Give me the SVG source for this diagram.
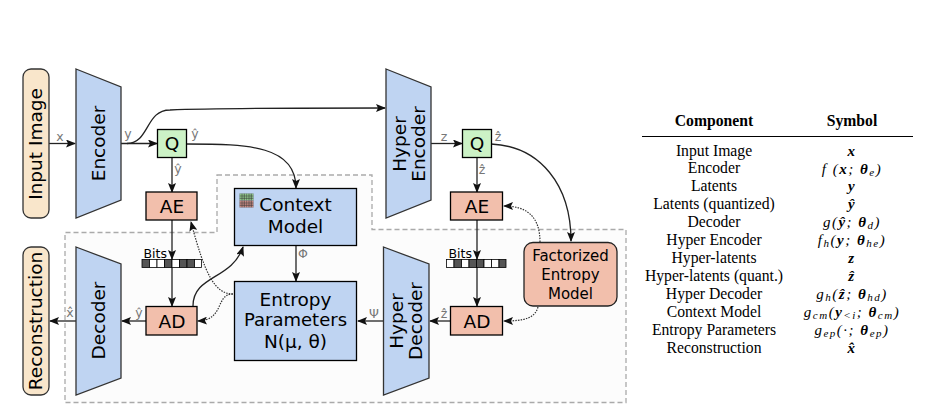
<svg xmlns="http://www.w3.org/2000/svg" width="926" height="417" viewBox="0 0 926 417">
<style>
.dv{font-family:"DejaVu Sans",sans-serif;fill:#000}
.big{font-size:18.500px;text-anchor:middle}
.lbl{font-size:12.500px;fill:#777;text-anchor:middle}
.blue{fill:#bfd4f2;stroke:#333;stroke-width:1.3}
.sal{fill:#f2bfac;stroke:#000;stroke-width:1.3}
.grn{fill:#ccf2c6;stroke:#000;stroke-width:1.3}
.pill{fill:#f9e6cb;stroke:#333;stroke-width:1.3}
.ln{fill:none;stroke:#222;stroke-width:1.3}
.ar{marker-end:url(#a)}
.dot{fill:none;stroke:#333;stroke-width:1.2;stroke-dasharray:1.5 1.2;marker-end:url(#a)}
.t{font-family:"Liberation Serif",serif;font-size:15.700px;text-anchor:middle;fill:#000}
.h{font-weight:bold}
.m{font-family:"Liberation Serif",serif;font-size:15px;font-style:italic;text-anchor:middle;fill:#000;letter-spacing:1.500px}
.m .b{font-weight:bold}
.m .s{font-size:11px}
.d{fill:#555;stroke:#000;stroke-width:.8}
.w{fill:#fff;stroke:#000;stroke-width:.8}
</style>
<defs>
<marker id="a" markerWidth="10" markerHeight="8" refX="9" refY="4" orient="auto" markerUnits="userSpaceOnUse"><path d="M0,0 L10,4 L0,8 L2,4 Z" fill="#111"/></marker>
<pattern id="g" width="2.33" height="2.33" patternUnits="userSpaceOnUse" x="239.5" y="193.5"><rect width="2.33" height="2.33" fill="#333"/><rect x=".4" y=".4" width="1.7" height="1.7" fill="#9fe09a"/></pattern>
<pattern id="r" width="2.33" height="2.33" patternUnits="userSpaceOnUse" x="239.5" y="193.5"><rect width="2.33" height="2.33" fill="#333"/><rect x=".4" y=".4" width="1.7" height="1.7" fill="#e09890"/></pattern>
</defs>

<path id="region" d="M217,175 H372 V229.500 H626 V402.500 H65 V232.500 H217 Z" fill="#fcfcfc" stroke="#aaa" stroke-width="1.300" stroke-dasharray="5 3"/>

<g id="connectors">
<path class="ln ar" d="M49,143.500 H75"/>
<path class="ln ar" d="M121,143.500 H157"/>
<path class="ln ar" d="M127,143.500 C150,143 145,110 170,110 C220,108 320,108 385,108"/>
<path class="ln ar" d="M186,144 C250,144 296,146 296,188"/>
<path class="ln ar" d="M172,157 V192"/>
<path class="ln ar" d="M172,220 V259"/>
<path class="ln ar" d="M172,267 V306"/>
<path class="ln ar" d="M76,321 H50"/>
<path class="ln ar" d="M146,321 H122"/>
<path class="ln ar" d="M193,306 C193,275 232,280 243,247"/>
<path class="ln ar" d="M296,245 V281"/>
<path class="dot" d="M233,294 C215,294 205,275 191,222"/>
<path class="dot" d="M233,294 C215,294 225,320 198,321"/>
<path class="ln ar" d="M431,143.500 H462"/>
<path class="ln ar" d="M491,144 C540,146 571,185 571,241"/>
<path class="ln ar" d="M477,157 V192"/>
<path class="ln ar" d="M477,220 V259"/>
<path class="ln ar" d="M477,267 V306"/>
<path class="ln ar" d="M384,321 H358"/>
<path class="ln ar" d="M451,321 H430"/>
<path class="dot" d="M540,242 C540,215 525,206 504,206"/>
<path class="dot" d="M538,307 C535,318 525,321 504,321"/>
</g>

<g id="input-image"><rect class="pill" x="23" y="69" width="26" height="149" rx="8"/><text class="dv big" transform="translate(42,144) rotate(-90)">Input Image</text></g>
<g id="encoder"><path class="blue" d="M76,69 L121,87 V200 L76,218 Z"/><text class="dv big" transform="translate(105,143.500) rotate(-90)">Encoder</text></g>
<g id="q1"><rect class="grn" x="157.500" y="129.500" width="29" height="28"/><text class="dv big" x="172" y="149.500">Q</text></g>
<g id="ae1"><rect class="sal" x="146" y="192" width="51" height="28"/><text class="dv big" x="172" y="212.500">AE</text></g>
<g id="ad1"><rect class="sal" x="146" y="306.500" width="51" height="28.500"/><text class="dv big" x="172" y="327.500">AD</text></g>
<g id="bits1"><text class="dv" x="143.500" y="258" style="font-size:12.500px">Bits</text>
<rect class="d" x="142" y="259.500" width="7.500" height="8"/><rect class="w" x="149.500" y="259.500" width="7.500" height="8"/><rect class="w" x="157" y="259.500" width="7.500" height="8"/><rect class="d" x="164.500" y="259.500" width="7.500" height="8"/><rect class="w" x="172" y="259.500" width="7.500" height="8"/><rect class="d" x="179.500" y="259.500" width="7.500" height="8"/><rect class="d" x="187" y="259.500" width="7.500" height="8"/><rect class="w" x="194.500" y="259.500" width="7" height="8"/></g>
<g id="context-model"><rect class="blue" style="stroke:#000" x="234.500" y="188.500" width="122" height="57"/>
<rect x="239.500" y="193.500" width="14" height="7" fill="url(#g)"/><rect x="239.500" y="200.500" width="14" height="7" fill="url(#r)"/>
<text class="dv big" x="295.500" y="211">Context</text><text class="dv big" x="295.500" y="233">Model</text></g>
<g id="entropy-parameters"><rect class="blue" style="stroke:#000" x="234.500" y="281.500" width="122" height="79"/>
<text class="dv big" x="295.500" y="306">Entropy</text><text class="dv big" style="font-size:18px" x="295.500" y="325.500">Parameters</text><text class="dv big" x="295.500" y="347.500">N(μ, θ)</text></g>
<g id="decoder"><path class="blue" d="M76,247 L121,264 V378 L76,395 Z"/><text class="dv big" transform="translate(105,320.500) rotate(-90)">Decoder</text></g>
<g id="reconstruction"><rect class="pill" x="23" y="247" width="26" height="148" rx="8"/><text class="dv big" transform="translate(42,321) rotate(-90)">Reconstruction</text></g>
<g id="hyper-encoder"><path class="blue" d="M386,69 L431,87 V200 L386,218 Z"/><text class="dv big" transform="translate(406,144) rotate(-90)">Hyper</text><text class="dv big" transform="translate(425,144) rotate(-90)">Encoder</text></g>
<g id="q2"><rect class="grn" x="462.500" y="129.500" width="29" height="28"/><text class="dv big" x="477" y="149.500">Q</text></g>
<g id="ae2"><rect class="sal" x="450.500" y="192" width="52" height="28"/><text class="dv big" x="477" y="212.500">AE</text></g>
<g id="ad2"><rect class="sal" x="450.500" y="306.500" width="52" height="28.500"/><text class="dv big" x="477" y="327.500">AD</text></g>
<g id="bits2"><text class="dv" x="448.500" y="258" style="font-size:12.500px">Bits</text>
<rect class="w" x="446.500" y="259.500" width="7.500" height="8"/><rect class="d" x="454" y="259.500" width="7.500" height="8"/><rect class="w" x="461.500" y="259.500" width="7.500" height="8"/><rect class="d" x="469" y="259.500" width="7.500" height="8"/><rect class="d" x="476.500" y="259.500" width="7.500" height="8"/><rect class="w" x="484" y="259.500" width="7.500" height="8"/><rect class="w" x="491.500" y="259.500" width="7.500" height="8"/><rect class="d" x="499" y="259.500" width="7" height="8"/></g>
<g id="factorized-entropy-model"><rect class="sal" style="stroke:#222" x="524" y="242.500" width="93" height="63.500" rx="9"/>
<text class="dv" text-anchor="middle" style="font-size:15px" x="570.500" y="261">Factorized</text><text class="dv" text-anchor="middle" style="font-size:15px" x="570.500" y="280">Entropy</text><text class="dv" text-anchor="middle" style="font-size:15px" x="570.500" y="299">Model</text></g>
<g id="hyper-decoder"><path class="blue" d="M383.500,247 L429,264 V378 L383.500,395 Z"/><text class="dv big" transform="translate(403,321) rotate(-90)">Hyper</text><text class="dv big" transform="translate(422,321) rotate(-90)">Decoder</text></g>

<g id="labels">
<text class="dv lbl" x="60" y="141">x</text>
<text class="dv lbl" x="128" y="138">y</text>
<text class="dv lbl" x="195" y="138">ŷ</text>
<text class="dv lbl" x="178" y="173">ŷ</text>
<text class="dv lbl" x="70" y="317">x̂</text>
<text class="dv lbl" x="139" y="317">ŷ</text>
<text class="dv lbl" x="303" y="258">Φ</text>
<text class="dv lbl" x="374" y="318">Ψ</text>
<text class="dv lbl" x="444" y="318">ẑ</text>
<text class="dv lbl" x="444" y="141">z</text>
<text class="dv lbl" x="498" y="141">ẑ</text>
<text class="dv lbl" x="482" y="174">ẑ</text>
</g>

<g id="table">
<line x1="642" y1="136.500" x2="913" y2="136.500" stroke="#000" stroke-width="1.200"/>
<text class="t h" x="714" y="126">Component</text><text class="t h" x="852" y="126">Symbol</text>
<text class="t" x="714" y="156">Input Image</text>
<text class="t" x="714" y="173">Encoder</text>
<text class="t" x="714" y="191">Latents</text>
<text class="t" x="714" y="209">Latents (quantized)</text>
<text class="t" x="714" y="227">Decoder</text>
<text class="t" x="714" y="245">Hyper Encoder</text>
<text class="t" x="714" y="263">Hyper-latents</text>
<text class="t" x="714" y="281">Hyper-latents (quant.)</text>
<text class="t" x="714" y="299">Hyper Decoder</text>
<text class="t" x="714" y="317">Context Model</text>
<text class="t" x="714" y="335">Entropy Parameters</text>
<text class="t" x="714" y="353">Reconstruction</text>
<text class="m" x="852" y="156"><tspan class="b">x</tspan></text>
<text class="m" x="852" y="174">f (<tspan class="b">x</tspan>; <tspan class="b">θ</tspan><tspan class="s" dy="2">e</tspan><tspan dy="-2">)</tspan></text>
<text class="m" x="852" y="191"><tspan class="b">y</tspan></text>
<text class="m" x="852" y="209"><tspan class="b">ŷ</tspan></text>
<text class="m" x="852" y="227">g(<tspan class="b">ŷ</tspan>; <tspan class="b">θ</tspan><tspan class="s" dy="2">d</tspan><tspan dy="-2">)</tspan></text>
<text class="m" x="852" y="245">f<tspan class="s" dy="2">h</tspan><tspan dy="-2">(</tspan><tspan class="b">y</tspan>; <tspan class="b">θ</tspan><tspan class="s" dy="2">he</tspan><tspan dy="-2">)</tspan></text>
<text class="m" x="852" y="263"><tspan class="b">z</tspan></text>
<text class="m" x="852" y="281"><tspan class="b">ẑ</tspan></text>
<text class="m" x="852" y="299">g<tspan class="s" dy="2">h</tspan><tspan dy="-2">(</tspan><tspan class="b">ẑ</tspan>; <tspan class="b">θ</tspan><tspan class="s" dy="2">hd</tspan><tspan dy="-2">)</tspan></text>
<text class="m" x="852" y="317">g<tspan class="s" dy="2">cm</tspan><tspan dy="-2">(</tspan><tspan class="b">y</tspan><tspan class="s" dy="2">&lt;i</tspan><tspan dy="-2">; </tspan><tspan class="b">θ</tspan><tspan class="s" dy="2">cm</tspan><tspan dy="-2">)</tspan></text>
<text class="m" x="852" y="335">g<tspan class="s" dy="2">ep</tspan><tspan dy="-2">(·; </tspan><tspan class="b">θ</tspan><tspan class="s" dy="2">ep</tspan><tspan dy="-2">)</tspan></text>
<text class="m" x="852" y="353"><tspan class="b">x̂</tspan></text>
</g>
</svg>
